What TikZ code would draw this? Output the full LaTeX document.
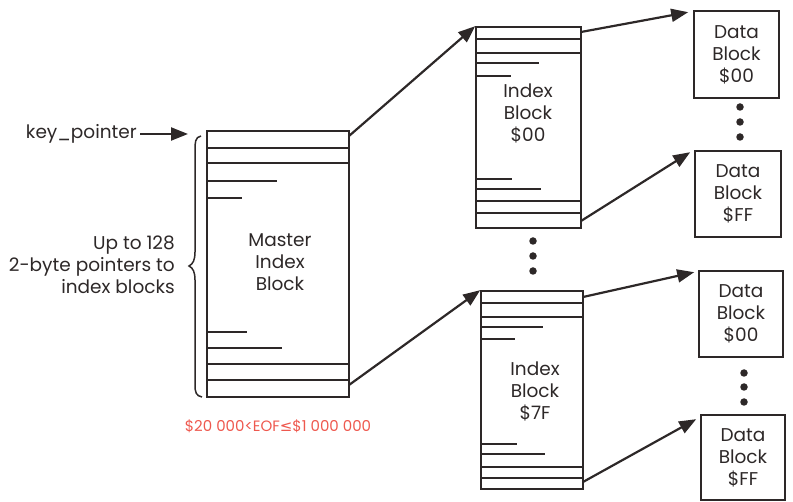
\documentclass[tikz,border=0pt]{standalone}
\usepackage{fontspec}
\setmainfont{Poppins}
\newfontfamily\symfont{DejaVu Sans}
\usetikzlibrary{arrows.meta,calc}
\definecolor{eofred}{RGB}{238,88,78}
\definecolor{ink}{RGB}{45,40,40}
\tikzset{
  blk/.style={draw=ink, line width=1.6pt, rectangle, inner sep=0pt},
  rowline/.style={draw=ink, line width=1.5pt},
  arr/.style={draw=ink, line width=2.2pt, -{Triangle[length=17pt,width=13pt]}},
  lbl/.style={font=\fontsize{18.5}{22}\selectfont, text=ink, align=center, inner sep=0pt},
  dot/.style={circle, fill=ink, inner sep=0pt, minimum size=7.5pt}
}
\begin{document}
\begin{tikzpicture}[x=1pt,y=-1pt]
\useasboundingbox (0,0) rectangle (793,502);
% master index block
\node[blk, minimum width=142pt, minimum height=266pt] (m) at (278,264) {};
\node[lbl] (mlab) at (280,262) {Master\\Index\\Block};
\foreach \y in {148,163,364,380} \draw[rowline] (207,\y) -- (349,\y);
\draw[rowline] (207,181) -- (277,181);
\draw[rowline] (207,198) -- (242,198);
\draw[rowline] (207,332) -- (247,332);
\draw[rowline] (207,348) -- (282,348);
\coordinate (m1) at (349,136);
\coordinate (m2) at (349,385);
% index block $00
\node[blk, minimum width=105pt, minimum height=201pt] (i0) at (528.5,127.5) {};
\node[lbl] (i0lab) at (528,113) {Index\\Block\\\$00};
\foreach \y in {39,53,201,213} \draw[rowline] (476,\y) -- (581,\y);
\draw[rowline] (476,63) -- (539,63);
\draw[rowline] (476,76) -- (511,76);
\draw[rowline] (476,179) -- (512,179);
\draw[rowline] (476,189) -- (541,189);
\coordinate (i0a) at (581,32);
\coordinate (i0b) at (581,221);
% index block $7F
\node[blk, minimum width=102pt, minimum height=198pt] (i7) at (532,390) {};
\node[lbl] (i7lab) at (535,391) {Index\\Block\\\$7F};
\foreach \y in {303,317,467,478} \draw[rowline] (481,\y) -- (583,\y);
\draw[rowline] (481,327) -- (543,327);
\draw[rowline] (481,339) -- (515,339);
\draw[rowline] (481,444) -- (517,444);
\draw[rowline] (481,454) -- (545,454);
\coordinate (i7a) at (583,297);
\coordinate (i7b) at (583,482);
% data blocks
\node[blk, lbl, minimum width=85pt, minimum height=87pt] (d1) at (736.5,54.5) {Data\\Block\\\$00};
\node[blk, lbl, minimum width=86pt, minimum height=86pt] (d2) at (738,194) {Data\\Block\\\$FF};
\node[blk, lbl, minimum width=84pt, minimum height=86pt] (d3) at (741,314) {Data\\Block\\\$00};
\node[blk, lbl, minimum width=84pt, minimum height=85pt] (d4) at (743,457.5) {Data\\Block\\\$FF};
% dots
\node[dot] (a1) at (533,241) {};
\node[dot] (a2) at (533,256) {};
\node[dot] (a3) at (533,271) {};
\node[dot] (b1) at (740,107) {};
\node[dot] (b2) at (740,122) {};
\node[dot] (b3) at (740,137) {};
\node[dot] (c1) at (744,373) {};
\node[dot] (c2) at (744,387) {};
\node[dot] (c3) at (744,402) {};
% arrows
\draw[arr] (m1) -- (i0.north west);
\draw[arr] (m2) -- (i7.north west);
\draw[arr] (i0a) -- ($(d1.north west)+(-5,2)$);
\draw[arr] (i0b) -- ($(d2.north west)+(-4,2)$);
\draw[arr] (i7a) -- ($(d3.north west)+(-4,2)$);
\draw[arr] (i7b) -- ($(d4.north west)+(-4,5)$);
% key pointer
\node[lbl, anchor=east] (kp) at (137,134) {key\_pointer};
\coordinate (kpend) at (188,134);
\draw[arr] (kp.east) ++(3,0) -- (kpend);
% brace
\draw[ink, line width=1.5pt] (201,136) .. controls (195,137) and (195,143) .. (195,150)
  -- (195,252) .. controls (195,260) and (193,264) .. (189,266)
  .. controls (193,268) and (195,272) .. (195,280)
  -- (195,385) .. controls (195,392) and (196,396) .. (202,397);
\node[lbl, align=right, anchor=east] (up) at (175,265) {Up to 128\\2-byte pointers to\\index blocks};
% EOF label
\node[font=\fontsize{15}{17}\selectfont, text=eofred, inner sep=0pt] (eof) at (278,426) {\$20 000<EOF{\symfont ≤}\$1 000 000};
\end{tikzpicture}
\end{document}
